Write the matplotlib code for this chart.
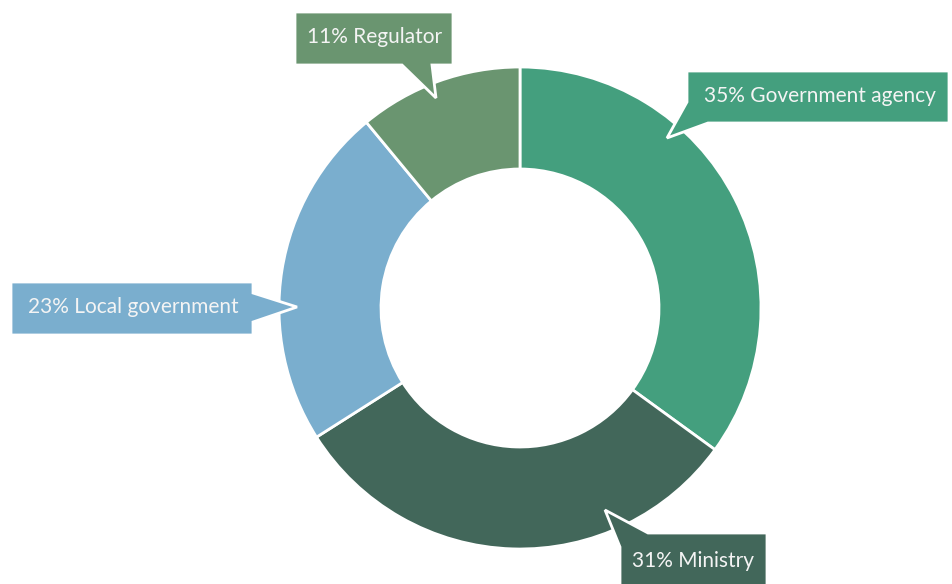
import matplotlib
matplotlib.use('Agg')
import matplotlib.pyplot as plt
from matplotlib.patches import Polygon

# 数据
labels = ['Government agency', 'Ministry', 'Local government', 'Regulator']
shares = [35, 31, 23, 11]
colors = ['#449F7E', '#42675A', '#7AAECE', '#6A9570']

W, H = 952, 584

def px(x, y):
    # 像素坐标 -> 数据坐标 (y 轴向上)
    return (x, H - y)

# 标注框: 文本中心 + 框和指针的轮廓 (像素)
callouts = {
    'Government agency': ((820, 96), [(687, 71), (949, 71), (949, 123), (708, 123), (667, 138), (687, 102)]),
    'Ministry': ((693, 561), [(648, 533), (767, 533), (767, 600), (620, 600), (620, 547), (605, 510)]),
    'Local government': ((133, 307), [(11, 282), (253, 282), (253, 293), (297, 307), (253, 322), (253, 335), (11, 335)]),
    'Regulator': ((375, 37), [(295, 12), (453, 12), (453, 65), (432, 65), (436, 98), (402, 65), (295, 65)]),
}

fig = plt.figure(figsize=(W / 100, H / 100), dpi=100)
ax = fig.add_axes([0, 0, 1, 1])

# 环形图
ax.pie(shares, colors=colors, startangle=90, counterclock=False,
       center=px(520, 308), radius=241,
       wedgeprops=dict(width=102, edgecolor='white', linewidth=2))

for lab, val, col in zip(labels, shares, colors):
    (tx, ty), pts = callouts[lab]
    poly = Polygon([px(x, y) for x, y in pts], closed=True, facecolor=col,
                   edgecolor='white', linewidth=2, joinstyle='miter', zorder=5)
    ax.add_patch(poly)
    ax.text(*px(tx, ty), '%d%% %s' % (val, lab), ha='center', va='center',
            color='#F4F4F4', fontsize=15, family='Lato', zorder=6)

ax.set_xlim(0, W)
ax.set_ylim(0, H)
ax.set_aspect('equal')
ax.axis('off')

plt.savefig('out.png', dpi=100)
plt.close()
